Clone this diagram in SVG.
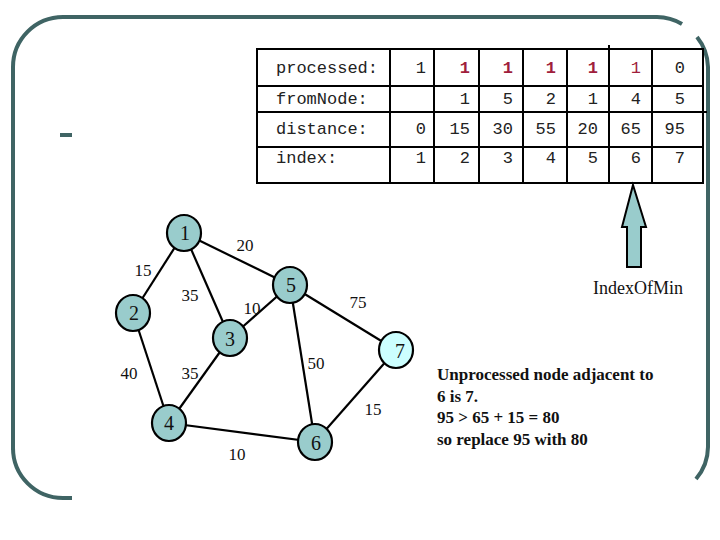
<svg xmlns="http://www.w3.org/2000/svg" width="720" height="540" viewBox="0 0 720 540">
<style>
.frame{fill:none;stroke:#3f6464;stroke-width:4;stroke-linecap:butt}
.grid{stroke:#000;stroke-width:2;fill:none}
.mono{font-family:"Liberation Mono","Courier New",monospace;font-size:17px;fill:#222}
.num{text-anchor:end}
.red{fill:#a01e3c;font-weight:bold}
.red2{fill:#a01e3c}
.edge{stroke:#000;stroke-width:2.2;fill:none}
.node{fill:#99cccc;stroke:#000;stroke-width:2.2}
.node7{fill:#ccffff;stroke:#000;stroke-width:2.2}
.nl{font-family:"Liberation Serif","Times New Roman",serif;font-size:20px;text-anchor:middle;fill:#111}
.el{font-family:"Liberation Serif","Times New Roman",serif;font-size:17px;text-anchor:middle;fill:#111}
.note{font-family:"Liberation Serif","Times New Roman",serif;font-size:17px;font-weight:bold;fill:#111}
</style>
<rect width="720" height="540" fill="#fff"/>
<g id="frame">
<path class="frame" d="M13,450 V67 A50,50 0 0 1 63,17 H657 A50,50 0 0 1 682,24"/>
<path class="frame" d="M697,37 A50,50 0 0 1 708,67 V447 A50,50 0 0 1 696,479"/>
<path class="frame" d="M13,448 A50,50 0 0 0 63,498 H72"/>
<rect x="60" y="133" width="12" height="4" fill="#3f6464"/>
</g>
<g id="table">
<rect class="grid" x="257" y="49" width="446" height="134"/>
<line class="grid" x1="257" y1="86" x2="703" y2="86"/>
<line class="grid" x1="257" y1="112" x2="707" y2="112"/>
<line class="grid" x1="257" y1="147" x2="703" y2="147"/>
<line class="grid" x1="390" y1="49" x2="390" y2="183"/>
<line class="grid" x1="434" y1="49" x2="434" y2="183"/>
<line class="grid" x1="479" y1="49" x2="479" y2="183"/>
<line class="grid" x1="523" y1="49" x2="523" y2="183"/>
<line class="grid" x1="567" y1="49" x2="567" y2="183"/>
<line class="grid" x1="609" y1="45" x2="609" y2="183"/>
<line class="grid" x1="652" y1="49" x2="652" y2="183"/>
<text class="mono" x="276" y="73">processed:</text>
<text class="mono" x="276" y="104">fromNode:</text>
<text class="mono" x="276" y="134">distance:</text>
<text class="mono" x="276" y="163">index:</text>
<g class="mono num">
<text x="426" y="73">1</text>
<text x="470" y="73" class="red">1</text>
<text x="513" y="73" class="red">1</text>
<text x="556" y="73" class="red">1</text>
<text x="598" y="73" class="red">1</text>
<text x="641" y="73" class="red2">1</text>
<text x="685" y="73">0</text>
<text x="470" y="104">1</text>
<text x="513" y="104">5</text>
<text x="556" y="104">2</text>
<text x="598" y="104">1</text>
<text x="641" y="104">4</text>
<text x="685" y="104">5</text>
<text x="426" y="134">0</text>
<text x="470" y="134">15</text>
<text x="513" y="134">30</text>
<text x="556" y="134">55</text>
<text x="598" y="134">20</text>
<text x="641" y="134">65</text>
<text x="685" y="134">95</text>
<text x="426" y="163">1</text>
<text x="470" y="163">2</text>
<text x="513" y="163">3</text>
<text x="556" y="163">4</text>
<text x="598" y="163">5</text>
<text x="641" y="163">6</text>
<text x="685" y="163">7</text>
</g>
</g>
<g id="arrow">
<path d="M633,185 L646,227 L641,227 L641,267 L627,267 L627,227 L622,227 Z" fill="#99cccc" stroke="#000" stroke-width="2"/>
<text class="el" x="638" y="294" style="font-size:18px">IndexOfMin</text>
</g>
<g id="connectors">
<line class="edge" x1="184" y1="233" x2="133" y2="313"/>
<line class="edge" x1="184" y1="233" x2="230" y2="338"/>
<line class="edge" x1="184" y1="233" x2="290" y2="285"/>
<line class="edge" x1="133" y1="313" x2="169" y2="423"/>
<line class="edge" x1="230" y1="338" x2="290" y2="285"/>
<line class="edge" x1="230" y1="338" x2="169" y2="423"/>
<line class="edge" x1="290" y1="285" x2="396" y2="350"/>
<line class="edge" x1="290" y1="285" x2="315" y2="442"/>
<line class="edge" x1="169" y1="423" x2="315" y2="442"/>
<line class="edge" x1="396" y1="350" x2="315" y2="442"/>
<text class="el" x="245" y="251">20</text>
<text class="el" x="143" y="276">15</text>
<text class="el" x="190" y="301">35</text>
<text class="el" x="252" y="314">10</text>
<text class="el" x="358" y="308">75</text>
<text class="el" x="129" y="379">40</text>
<text class="el" x="190" y="379">35</text>
<text class="el" x="316" y="369">50</text>
<text class="el" x="373" y="415">15</text>
<text class="el" x="237" y="460">10</text>
</g>
<g id="node1"><ellipse class="node" cx="184" cy="233" rx="17" ry="18"/><text class="nl" x="185" y="240">1</text></g>
<g id="node2"><ellipse class="node" cx="133" cy="313" rx="17" ry="18"/><text class="nl" x="134" y="320">2</text></g>
<g id="node3"><ellipse class="node" cx="230" cy="338" rx="17" ry="18"/><text class="nl" x="230" y="346">3</text></g>
<g id="node4"><ellipse class="node" cx="169" cy="423" rx="17" ry="18"/><text class="nl" x="169" y="430">4</text></g>
<g id="node5"><ellipse class="node" cx="290" cy="285" rx="17" ry="18"/><text class="nl" x="291" y="292">5</text></g>
<g id="node6"><ellipse class="node" cx="315" cy="442" rx="17" ry="18"/><text class="nl" x="316" y="450">6</text></g>
<g id="node7"><ellipse class="node7" cx="396" cy="350" rx="17" ry="18"/><text class="nl" x="400" y="358">7</text></g>
<g id="note">
<text class="note" x="437" y="380">Unprocessed node adjacent to</text>
<text class="note" x="437" y="402">6 is 7.</text>
<text class="note" x="437" y="423">95 &gt; 65 + 15 = 80</text>
<text class="note" x="437" y="445">so replace 95 with 80</text>
</g>
</svg>
